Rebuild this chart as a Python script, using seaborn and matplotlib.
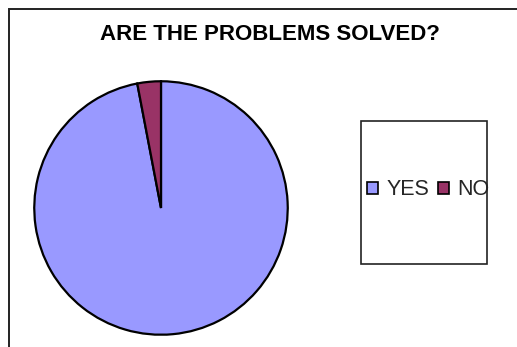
import matplotlib
matplotlib.use("Agg")
import matplotlib.pyplot as plt
from matplotlib.patches import Rectangle, Patch
import seaborn as sns

# Survey answers
categories = ["YES", "NO"]
shares = [97, 3]
title = "ARE THE PROBLEMS SOLVED?"

sns.set_theme(style="white")
plt.rcParams["font.family"] = ["Liberation Sans", "DejaVu Sans"]

palette = sns.color_palette(["#9999FF", "#993366"])

W, H = 517, 347
fig = plt.figure(figsize=(W / 100, H / 100), dpi=100)
fig.patch.set_facecolor("white")

def px_box(x0, y0, x1, y1):
    """Convert a pixel box (top-left origin) to figure fractions."""
    return [x0 / W, 1 - y1 / H, (x1 - x0) / W, (y1 - y0) / H]

# Outer chart frame (open to the right and bottom)
fig.add_artist(Rectangle((9 / W, -0.5), 2.0, 0.5 + (1 - 8.5 / H),
                         transform=fig.transFigure, fill=False,
                         edgecolor="#222222", linewidth=1.4))

# Pie
ax = fig.add_axes(px_box(33, 80, 289, 336))
ax.pie(shares, colors=palette, startangle=90, counterclock=False,
       wedgeprops=dict(edgecolor="black", linewidth=1.6), radius=1.0)
ax.set_xlim(-1.01, 1.01)
ax.set_ylim(-1.01, 1.01)
ax.set_aspect("equal")
ax.axis("off")

# Title
fig.text(270 / W, 1 - 34.5 / H, title, ha="center", va="center",
         fontsize=16, fontweight="bold", color="black")

# Legend box
fig.add_artist(Rectangle((361 / W, 1 - 264 / H), (487 - 361) / W, (264 - 121) / H,
                         transform=fig.transFigure, fill=False,
                         edgecolor="#222222", linewidth=1.2))

handles = [Patch(facecolor=c, edgecolor="black", linewidth=1.2) for c in palette]
fig.legend(handles, categories, loc="center left",
           bbox_to_anchor=(367 / W, 1 - 190 / H), ncol=2, frameon=False,
           fontsize=15.5, handlelength=0.5, handleheight=0.5,
           handletextpad=0.4, columnspacing=0.4, borderpad=0, borderaxespad=0)

fig.savefig("out.png", dpi=100, facecolor="white")
